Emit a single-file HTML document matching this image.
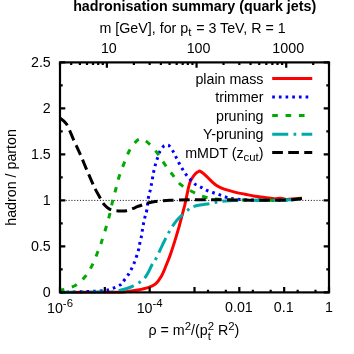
<!DOCTYPE html><html><head><meta charset="utf-8"><style>html,body{margin:0;padding:0;background:#fff;width:354px;height:354px;overflow:hidden;}svg{display:block;will-change:transform;opacity:0.999}text{font-family:"Liberation Sans",sans-serif;fill:#000}</style></head><body>
<svg width="354" height="354" viewBox="0 0 354 354">
<rect width="354" height="354" fill="#fff"/>
<line x1="60.00" y1="200.40" x2="329.00" y2="200.40" stroke="#000" stroke-width="0.9" stroke-dasharray="1.1 1.75"/>
<clipPath id="c"><rect x="60.00" y="62.40" width="269.00" height="231.50"/></clipPath>
<g clip-path="url(#c)" fill="none" stroke-width="3.00" stroke-linejoin="round">
<path d="M60.00,292.40 C69.17,292.37 103.73,292.37 115.00,292.20 C126.27,292.03 123.80,291.77 127.60,291.40 C131.40,291.03 134.40,290.63 137.80,290.00 C141.20,289.37 145.03,288.63 148.00,287.60 C150.97,286.57 153.35,285.73 155.60,283.80 C157.85,281.87 159.72,279.13 161.50,276.00 C163.28,272.87 164.80,268.63 166.30,265.00 C167.80,261.37 169.10,258.13 170.50,254.20 C171.90,250.27 173.37,245.65 174.70,241.40 C176.03,237.15 177.27,233.07 178.50,228.70 C179.73,224.33 181.05,219.15 182.10,215.20 C183.15,211.25 184.13,207.70 184.80,205.00 C185.47,202.30 185.25,202.75 186.10,199.00 C186.95,195.25 188.47,186.57 189.90,182.50 C191.33,178.43 193.28,176.42 194.70,174.60 C196.12,172.78 197.58,172.22 198.40,171.60 C199.22,170.98 199.18,170.90 199.60,170.90 C200.02,170.90 199.92,170.87 200.90,171.60 C201.88,172.33 203.75,173.70 205.50,175.30 C207.25,176.90 209.42,179.40 211.40,181.20 C213.38,183.00 215.27,184.77 217.40,186.10 C219.53,187.43 221.32,188.20 224.20,189.20 C227.08,190.20 231.25,191.27 234.70,192.10 C238.15,192.93 241.55,193.52 244.90,194.20 C248.25,194.88 251.50,195.67 254.80,196.20 C258.10,196.73 261.42,196.97 264.70,197.40 C267.98,197.83 271.87,198.67 274.50,198.80 C277.13,198.93 278.52,198.10 280.50,198.20 C282.48,198.30 284.10,199.30 286.40,199.40 C288.70,199.50 291.70,199.00 294.30,198.80 C296.90,198.60 300.72,198.30 302.00,198.20" stroke="#ff0000"/>
<path d="M60.00,292.30 C66.67,292.08 91.33,291.63 100.00,291.00 C108.67,290.37 108.67,289.50 112.00,288.50 C115.33,287.50 118.25,286.00 120.00,285.00 C121.75,284.00 121.02,284.40 122.50,282.50 C123.98,280.60 126.98,276.78 128.90,273.60 C130.82,270.42 132.43,267.22 134.00,263.40 C135.57,259.58 137.30,254.22 138.30,250.70 C139.30,247.18 139.48,244.68 140.00,242.30 C140.52,239.92 140.98,238.52 141.40,236.40 C141.82,234.28 142.12,231.87 142.50,229.60 C142.88,227.33 143.27,224.98 143.70,222.80 C144.13,220.62 144.58,218.62 145.10,216.50 C145.62,214.38 146.23,213.37 146.80,210.10 C147.37,206.83 147.92,200.25 148.50,196.90 C149.08,193.55 149.80,192.17 150.30,190.00 C150.80,187.83 151.10,186.05 151.50,183.90 C151.90,181.75 152.30,179.30 152.70,177.10 C153.10,174.90 153.42,172.90 153.90,170.70 C154.38,168.50 154.95,166.17 155.60,163.90 C156.25,161.63 157.07,159.22 157.80,157.10 C158.53,154.98 159.02,153.03 160.00,151.20 C160.98,149.37 162.62,147.08 163.70,146.10 C164.78,145.12 165.58,145.35 166.50,145.30 C167.42,145.25 168.12,144.82 169.20,145.80 C170.28,146.78 171.88,149.37 173.00,151.20 C174.12,153.03 174.90,154.83 175.90,156.80 C176.90,158.77 177.92,160.97 179.00,163.00 C180.08,165.03 181.22,167.07 182.40,169.00 C183.58,170.93 184.78,172.83 186.10,174.60 C187.42,176.37 188.82,178.02 190.30,179.60 C191.78,181.18 193.25,182.85 195.00,184.10 C196.75,185.35 198.90,186.08 200.80,187.10 C202.70,188.12 204.43,189.30 206.40,190.20 C208.37,191.10 210.48,191.75 212.60,192.50 C214.72,193.25 216.95,193.95 219.10,194.70 C221.25,195.45 223.38,196.35 225.50,197.00 C227.62,197.65 228.55,198.13 231.80,198.60 C235.05,199.07 237.80,199.53 245.00,199.80 C252.20,200.07 267.50,200.20 275.00,200.20 C282.50,200.20 285.50,200.07 290.00,199.80 C294.50,199.53 300.00,198.80 302.00,198.60" stroke="#0000ff" stroke-dasharray="2.67 4.01" stroke-dashoffset="0.30"/>
<path d="M60.00,290.60 C60.43,290.47 61.10,290.23 62.60,289.80 C64.10,289.37 66.88,288.72 69.00,288.00 C71.12,287.28 73.38,286.58 75.30,285.50 C77.22,284.42 78.85,283.00 80.50,281.50 C82.15,280.00 83.82,278.17 85.20,276.50 C86.58,274.83 87.68,273.28 88.80,271.50 C89.92,269.72 90.90,267.80 91.90,265.80 C92.90,263.80 93.88,261.67 94.80,259.50 C95.72,257.33 96.53,254.97 97.40,252.80 C98.27,250.63 99.25,248.53 100.00,246.50 C100.75,244.47 100.93,243.65 101.90,240.60 C102.87,237.55 104.53,232.43 105.80,228.20 C107.07,223.97 108.40,219.57 109.50,215.20 C110.60,210.83 111.35,206.33 112.40,202.00 C113.45,197.67 114.70,193.37 115.80,189.20 C116.90,185.03 117.60,181.37 119.00,177.00 C120.40,172.63 122.45,167.42 124.20,163.00 C125.95,158.58 127.38,154.23 129.50,150.50 C131.62,146.77 134.82,142.47 136.90,140.60 C138.98,138.73 140.10,138.90 142.00,139.30 C143.90,139.70 145.75,140.72 148.30,143.00 C150.85,145.28 154.53,149.42 157.30,153.00 C160.07,156.58 162.37,160.88 164.90,164.50 C167.43,168.12 169.90,171.38 172.50,174.70 C175.10,178.02 177.25,181.60 180.50,184.40 C183.75,187.20 188.12,189.43 192.00,191.50 C195.88,193.57 199.80,195.55 203.80,196.80 C207.80,198.05 209.97,198.47 216.00,199.00 C222.03,199.53 230.17,199.80 240.00,200.00 C249.83,200.20 266.67,200.23 275.00,200.20 C283.33,200.17 285.50,200.07 290.00,199.80 C294.50,199.53 300.00,198.80 302.00,198.60" stroke="#00aa00" stroke-dasharray="5.64 7.72" stroke-dashoffset="1.00"/>
<path d="M60.00,292.40 C68.33,292.33 100.25,292.27 110.00,292.00 C119.75,291.73 115.83,291.33 118.50,290.80 C121.17,290.27 123.60,289.58 126.00,288.80 C128.40,288.02 130.62,287.20 132.90,286.10 C135.18,285.00 137.73,283.53 139.70,282.20 C141.67,280.87 143.23,279.80 144.70,278.10 C146.17,276.40 147.30,274.18 148.50,272.00 C149.70,269.82 150.63,267.27 151.90,265.00 C153.17,262.73 154.33,261.77 156.10,258.40 C157.87,255.03 160.32,249.23 162.50,244.80 C164.68,240.37 166.73,235.98 169.20,231.80 C171.67,227.62 174.12,223.38 177.30,219.70 C180.48,216.02 185.72,211.85 188.30,209.70 C190.88,207.55 190.85,207.58 192.80,206.80 C194.75,206.02 197.32,205.52 200.00,205.00 C202.68,204.48 206.28,204.13 208.90,203.70 C211.52,203.27 213.58,202.78 215.70,202.40 C217.82,202.02 218.43,201.73 221.60,201.40 C224.77,201.07 229.97,200.60 234.70,200.40 C239.43,200.20 243.28,200.23 250.00,200.20 C256.72,200.17 268.33,200.27 275.00,200.20 C281.67,200.13 285.50,200.07 290.00,199.80 C294.50,199.53 300.00,198.80 302.00,198.60" stroke="#00aaaa" stroke-dasharray="16.03 5.34 2.67 5.34"/>
<path d="M60.00,118.00 C61.08,119.00 64.17,120.22 66.50,124.00 C68.83,127.78 71.68,135.58 74.00,140.70 C76.32,145.82 78.27,149.82 80.40,154.70 C82.53,159.58 84.63,164.92 86.80,170.00 C88.97,175.08 91.90,181.85 93.40,185.20 C94.90,188.55 94.62,187.87 95.80,190.10 C96.98,192.33 99.30,196.42 100.50,198.60 C101.70,200.78 101.92,201.73 103.00,203.20 C104.08,204.67 105.63,206.28 107.00,207.40 C108.37,208.52 109.65,209.33 111.20,209.90 C112.75,210.47 114.53,210.62 116.30,210.80 C118.07,210.98 120.12,211.02 121.80,211.00 C123.48,210.98 124.63,211.08 126.40,210.70 C128.17,210.32 130.58,209.37 132.40,208.70 C134.22,208.03 135.90,207.23 137.30,206.70 C138.70,206.17 139.35,206.02 140.80,205.50 C142.25,204.98 143.63,204.27 146.00,203.60 C148.37,202.93 151.00,202.05 155.00,201.50 C159.00,200.95 164.17,200.58 170.00,200.30 C175.83,200.02 181.67,199.88 190.00,199.80 C198.33,199.72 210.00,199.73 220.00,199.80 C230.00,199.87 240.83,200.13 250.00,200.20 C259.17,200.27 268.33,200.27 275.00,200.20 C281.67,200.13 285.50,200.10 290.00,199.80 C294.50,199.50 300.00,198.63 302.00,198.40" stroke="#000000" stroke-dasharray="10.69 5.34"/>
</g>
<path d="M60.00,292.40 h5.30 M329.00,292.40 h-5.30 M60.00,269.40 h2.70 M329.00,269.40 h-2.70 M60.00,246.40 h5.30 M329.00,246.40 h-5.30 M60.00,223.40 h2.70 M329.00,223.40 h-2.70 M60.00,200.40 h5.30 M329.00,200.40 h-5.30 M60.00,177.40 h2.70 M329.00,177.40 h-2.70 M60.00,154.40 h5.30 M329.00,154.40 h-5.30 M60.00,131.40 h2.70 M329.00,131.40 h-2.70 M60.00,108.40 h5.30 M329.00,108.40 h-5.30 M60.00,85.40 h2.70 M329.00,85.40 h-2.70 M60.00,62.40 h5.30 M329.00,62.40 h-5.30 M60.00,292.40 v-5.30 M104.83,292.40 v-5.30 M149.67,292.40 v-5.30 M194.50,292.40 v-5.30 M208.00,292.40 v-2.70 M225.84,292.40 v-2.70 M239.33,292.40 v-5.30 M252.83,292.40 v-2.70 M270.67,292.40 v-2.70 M284.17,292.40 v-5.30 M297.66,292.40 v-2.70 M315.50,292.40 v-2.70 M329.00,292.40 v-5.30 M60.00,62.40 v2.70 M71.20,62.40 v2.70 M79.89,62.40 v2.70 M86.99,62.40 v2.70 M93.00,62.40 v2.70 M98.20,62.40 v2.70 M102.78,62.40 v2.70 M106.88,62.40 v5.30 M133.88,62.40 v2.70 M149.67,62.40 v2.70 M160.87,62.40 v2.70 M169.56,62.40 v2.70 M176.66,62.40 v2.70 M182.66,62.40 v2.70 M187.86,62.40 v2.70 M192.45,62.40 v2.70 M196.55,62.40 v5.30 M223.54,62.40 v2.70 M239.33,62.40 v2.70 M250.54,62.40 v2.70 M259.23,62.40 v2.70 M266.33,62.40 v2.70 M272.33,62.40 v2.70 M277.53,62.40 v2.70 M282.12,62.40 v2.70 M286.22,62.40 v5.30 M313.21,62.40 v2.70 M329.00,62.40 v2.70" stroke="#000" stroke-width="2.2" fill="none"/>
<rect x="60.00" y="62.40" width="269.00" height="230.00" fill="none" stroke="#000" stroke-width="2.2"/>
<text x="194.7" y="11.0" font-size="14.31" font-weight="bold" text-anchor="middle">hadronisation summary (quark jets)</text>
<text x="99.5" y="32.9" font-size="14.25">m [GeV], for p<tspan font-size="11.4" dy="3.5">t</tspan><tspan dy="-3.5" dx="0.8"> = 3 TeV, R = 1</tspan></text>
<text x="108.88" y="52.6" font-size="14.25" text-anchor="middle">10</text>
<text x="198.55" y="52.6" font-size="14.25" text-anchor="middle">100</text>
<text x="288.22" y="52.6" font-size="14.25" text-anchor="middle">1000</text>
<text x="50.8" y="296.50" font-size="14.25" text-anchor="end">0</text>
<text x="50.8" y="250.50" font-size="14.25" text-anchor="end">0.5</text>
<text x="50.8" y="204.50" font-size="14.25" text-anchor="end">1</text>
<text x="50.8" y="158.50" font-size="14.25" text-anchor="end">1.5</text>
<text x="50.8" y="112.50" font-size="14.25" text-anchor="end">2</text>
<text x="50.8" y="66.50" font-size="14.25" text-anchor="end">2.5</text>
<text x="60.00" y="313.20" font-size="14.25" text-anchor="middle">10<tspan font-size="11.4" dy="-6.5">-6</tspan></text>
<text x="149.67" y="313.20" font-size="14.25" text-anchor="middle">10<tspan font-size="11.4" dy="-6.5">-4</tspan></text>
<text x="238.93" y="312.40" font-size="14.25" text-anchor="middle">0.01</text>
<text x="283.77" y="312.40" font-size="14.25" text-anchor="middle">0.1</text>
<text x="329.00" y="312.40" font-size="14.25" text-anchor="middle">1</text>
<text x="148.5" y="335" font-size="14.25">ρ = m<tspan font-size="11.4" dy="-5.4">2</tspan><tspan dy="5.4">/(p</tspan><tspan font-size="11.4" dy="4.6" >t</tspan><tspan font-size="11.4" dy="-10" dx="-3.2">2</tspan><tspan dy="5.4"> R</tspan><tspan font-size="11.4" dy="-5.4">2</tspan><tspan dy="5.4">)</tspan></text>
<text transform="translate(15.5,177.4) rotate(-90)" font-size="14.25" text-anchor="middle">hadron / parton</text>
<line x1="272.2" y1="78.50" x2="312.25" y2="78.50" stroke="#ff0000" stroke-width="3.00"/>
<text x="263.5" y="83.50" font-size="14.25" text-anchor="end">plain mass</text>
<line x1="272.2" y1="97.00" x2="312.25" y2="97.00" stroke="#0000ff" stroke-width="3.00" stroke-dasharray="2.67 4.01"/>
<text x="263.5" y="102.00" font-size="14.25" text-anchor="end">trimmer</text>
<line x1="272.2" y1="115.50" x2="312.25" y2="115.50" stroke="#00aa00" stroke-width="3.00" stroke-dasharray="5.64 7.72"/>
<text x="263.5" y="120.50" font-size="14.25" text-anchor="end">pruning</text>
<line x1="272.2" y1="134.30" x2="312.25" y2="134.30" stroke="#00aaaa" stroke-width="3.00" stroke-dasharray="16.03 5.34 2.67 5.34"/>
<text x="263.5" y="139.30" font-size="14.25" text-anchor="end">Y-pruning</text>
<line x1="272.2" y1="152.60" x2="312.25" y2="152.60" stroke="#000000" stroke-width="3.00" stroke-dasharray="10.69 5.34"/>
<text x="263.5" y="157.60" font-size="14.25" text-anchor="end">mMDT (z<tspan font-size="11.4" dy="3.5">cut</tspan><tspan dy="-3.5">)</tspan></text>
</svg></body></html>
